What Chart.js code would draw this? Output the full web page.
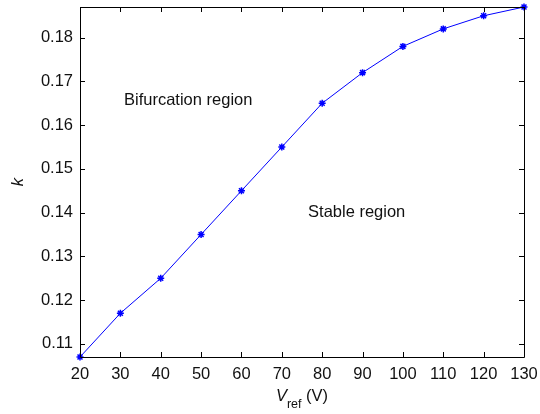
<!DOCTYPE html>
<html>
<head>
<meta charset="utf-8">
<script src="https://cdn.jsdelivr.net/npm/chart.js@4/dist/chart.umd.min.js"></script>
<style>
html,body{margin:0;padding:0;background:#fff;}
#wrap{width:540px;height:414px;position:relative;}
</style>
</head>
<body>
<div id="wrap"><canvas id="c" width="540" height="414"></canvas></div>
<script>
const vref = [20, 30, 40, 50, 60, 70, 80, 90, 100, 110, 120, 130];
const kValues = [0.107, 0.117, 0.125, 0.135, 0.145, 0.155, 0.165, 0.172, 0.178, 0.182, 0.185, 0.187];
const xTicks = [20, 30, 40, 50, 60, 70, 80, 90, 100, 110, 120, 130];
const yTicks = [0.11, 0.12, 0.13, 0.14, 0.15, 0.16, 0.17, 0.18];
const annotations = [
  {text: 'Bifurcation region', x: 30.9, y: 0.1646},
  {text: 'Stable region', x: 76.5, y: 0.1390}
];

const FONT = '"Liberation Sans", Arial, Helvetica, sans-serif';
const FS = 16.5;

const boxPlugin = {
  id: 'boxPlugin',
  afterDraw(chart) {
    const ctx = chart.ctx;
    const a = chart.chartArea;
    const xs = chart.scales.x, ys = chart.scales.y;
    ctx.save();
    ctx.strokeStyle = '#000';
    ctx.lineWidth = 1;
    ctx.beginPath();
    ctx.rect(Math.round(a.left) + 0.5, Math.round(a.top) + 0.5, Math.round(a.right - a.left), Math.round(a.bottom - a.top));
    ctx.stroke();
    const tl = 5;
    ctx.beginPath();
    xTicks.forEach(v => {
      const px = Math.round(xs.getPixelForValue(v)) + 0.5;
      ctx.moveTo(px, a.bottom); ctx.lineTo(px, a.bottom - tl);
      ctx.moveTo(px, a.top); ctx.lineTo(px, a.top + tl);
    });
    yTicks.forEach(v => {
      const py = Math.round(ys.getPixelForValue(v)) + 0.5;
      ctx.moveTo(a.left, py); ctx.lineTo(a.left + tl, py);
      ctx.moveTo(a.right, py); ctx.lineTo(a.right - tl, py);
    });
    ctx.stroke();

    // annotations
    ctx.fillStyle = '#111';
    ctx.font = FS + 'px ' + FONT;
    ctx.textAlign = 'left';
    ctx.textBaseline = 'alphabetic';
    annotations.forEach(an => {
      ctx.fillText(an.text, xs.getPixelForValue(an.x), ys.getPixelForValue(an.y));
    });

    // x axis title: V_ref (V)
    const cx = (a.left + a.right) / 2;
    const base = 401;
    ctx.font = 'italic ' + FS + 'px ' + FONT;
    const wV = ctx.measureText('V').width;
    ctx.font = '12.5px ' + FONT;
    const wSub = ctx.measureText('ref').width;
    ctx.font = FS + 'px ' + FONT;
    const wRest = ctx.measureText(' (V)').width;
    let x0 = cx - (wV + wSub + wRest) / 2;
    ctx.font = 'italic ' + FS + 'px ' + FONT;
    ctx.fillText('V', x0, base);
    ctx.font = '12.5px ' + FONT;
    ctx.fillText('ref', x0 + wV, base + 7);
    ctx.font = FS + 'px ' + FONT;
    ctx.fillText(' (V)', x0 + wV + wSub, base);

    // y axis title k
    ctx.save();
    ctx.translate(23, (a.top + a.bottom) / 2);
    ctx.rotate(-Math.PI / 2);
    ctx.textAlign = 'center';
    ctx.font = 'italic ' + FS + 'px ' + FONT;
    ctx.fillText('k', 0, 0);
    ctx.restore();
    ctx.restore();
  }
};

new Chart(document.getElementById('c'), {
  type: 'line',
  data: {
    datasets: [{
      data: vref.map((v, i) => ({x: v, y: kValues[i]})),
      borderColor: '#0000ff',
      backgroundColor: '#0000ff',
      borderWidth: 1,
      pointStyle: 'star',
      pointRadius: 3.5,
      pointBorderWidth: 1.5,
      pointBorderColor: '#0000ff',
      tension: 0,
      fill: false,
      clip: false
    }]
  },
  options: {
    responsive: false,
    animation: false,
    layout: {autoPadding: false, padding: {top: 7, right: 16, left: 0, bottom: 0}},
    plugins: {legend: {display: false}, tooltip: {enabled: false}},
    scales: {
      x: {
        type: 'linear',
        min: 20, max: 130,
        afterBuildTicks(s) { s.ticks = xTicks.map(v => ({value: v})); },
        afterFit(s) { s.height = 57; s.paddingLeft = 0; s.paddingRight = 0; },
        grid: {display: false, drawTicks: false},
        border: {display: false},
        ticks: {font: {family: FONT, size: FS}, color: '#111', padding: 8, maxRotation: 0, autoSkip: false}
      },
      y: {
        type: 'linear',
        min: 0.107, max: 0.187,
        afterBuildTicks(s) { s.ticks = yTicks.map(v => ({value: v})); },
        afterFit(s) { s.width = 80; s.paddingTop = 0; s.paddingBottom = 0; },
        grid: {display: false, drawTicks: false},
        border: {display: false},
        ticks: {font: {family: FONT, size: FS}, color: '#111', padding: 7, autoSkip: false,
          callback: v => v.toFixed(2)}
      }
    }
  },
  plugins: [boxPlugin]
});
</script>
</body>
</html>
